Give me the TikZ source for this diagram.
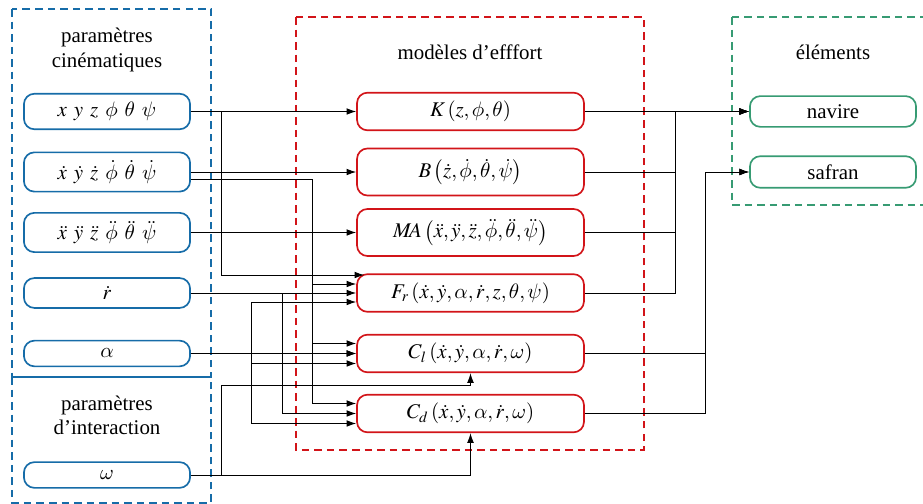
\documentclass[tikz,border=0pt]{standalone}
\usepackage{mathptmx}
\usepackage[no-math]{fontspec}
\setmainfont{Liberation Serif}
\usetikzlibrary{arrows.meta,calc}
\DeclareSymbolFont{cmgreek}{OML}{cmm}{m}{it}
\DeclareMathSymbol{\galpha}{\mathord}{cmgreek}{"0B}
\DeclareMathSymbol{\gtheta}{\mathord}{cmgreek}{"12}
\DeclareMathSymbol{\gphi}{\mathord}{cmgreek}{"1E}
\DeclareMathSymbol{\gpsi}{\mathord}{cmgreek}{"20}
\DeclareMathSymbol{\gomega}{\mathord}{cmgreek}{"21}
\definecolor{cblue}{RGB}{22,108,168}
\definecolor{cred}{RGB}{210,20,25}
\definecolor{cgreen}{RGB}{55,155,115}
\tikzset{
  box/.style={rounded corners=5pt,line width=0.8pt,minimum width=#1,inner ysep=4pt,inner xsep=2pt},
  bnode/.style={box=79.5pt,draw=cblue},
  rnode/.style={box=108.6pt,draw=cred},
  gnode/.style={box=79.5pt,draw=cgreen,minimum height=14.4pt},
  grp/.style={dash pattern=on 3.6pt off 2.4pt,line width=0.8pt},
  ttl/.style={align=center,font=\fontsize{10}{11.6}\selectfont},
  arr/.style={line width=0.45pt,-{Latex[length=4.6pt,width=3.2pt]}}
}
\begin{document}
\begin{tikzpicture}[x=0.4785pt,y=-0.4785pt]
\useasboundingbox (0,0) rectangle (923,504);
% group boxes
\draw[grp,cblue] (12,9) rectangle (211,377);
\draw[grp,cblue] (12,377) rectangle (211,503);
\draw[grp,cred] (296,17) rectangle (644,450);
\draw[grp,cgreen] (732,17) rectangle (930,205);
% titles
\node[ttl] (t1) at (107,50) {paramètres\\cinématiques};
\node[ttl] (t2) at (107,415) {paramètres\\d’interaction};
\node[ttl] (t3) at (470,52) {modèles d’efffort};
\node[ttl] (t4) at (833,52) {éléments};
% left nodes
\node[bnode] (n1) at (107,111.5) {$x\;\,y\;\,z\;\,\gphi\;\,\gtheta\;\,\gpsi$};
\node[bnode] (n2) at (107,172) {$\dot x\;\,\dot y\;\,\dot z\;\,\dot\gphi\;\,\dot\gtheta\;\,\dot\gpsi$};
\node[bnode] (n3) at (107,232.5) {$\ddot x\;\,\ddot y\;\,\ddot z\;\,\ddot\gphi\;\,\ddot\gtheta\;\,\ddot\gpsi$};
\node[bnode] (n4) at (107,293) {$\dot r$};
\node[bnode] (n5) at (107,353.5) {$\galpha$};
\node[bnode] (n6) at (107,475) {$\gomega$};
% middle nodes
\node[rnode] (K) at (470.5,111.5) {$K\,(z,\gphi,\gtheta)$};
\node[rnode,minimum height=22.5pt] (B) at (470.5,172) {$B\,\bigl(\dot z,\dot\gphi,\dot\gtheta,\dot\gpsi\bigr)$};
\node[rnode,minimum height=22.5pt] (MA) at (470.5,232.5) {$M\!A\,\bigl(\ddot x,\ddot y,\ddot z,\ddot\gphi,\ddot\gtheta,\ddot\gpsi\bigr)$};
\node[rnode] (Fr) at (470.5,293) {$F_r\,(\dot x,\dot y,\galpha,\dot r,z,\gtheta,\gpsi)$};
\node[rnode] (Cl) at (470.5,353.5) {$C_l\,(\dot x,\dot y,\galpha,\dot r,\gomega)$};
\node[rnode] (Cd) at (470.5,413.5) {$C_d\,(\dot x,\dot y,\galpha,\dot r,\gomega)$};
% right nodes
\node[gnode] (nav) at (833,111.5) {navire};
\node[gnode] (saf) at (833,172) {safran};
% junction columns
\coordinate (xa) at (221,0);
\coordinate (xb) at (251,0);
\coordinate (xc) at (282,0);
\coordinate (xd) at (312,0);
\coordinate (xr1) at (675,0);
\coordinate (xr2) at (705,0);
% left connectors
\draw[arr] (n1.east) -- (K.west);
\draw[arr] (n1.east) -| ($(xa|-Fr.west)+(0,-18)$) -- ($(Fr.west)+(8,-18)$);
\draw[arr] (n2.east) -- (B.west);
\draw[arr] ($(n2.east)+(0,7)$) -| ($(xd|-Fr.west)+(0,-9)$) -- ($(Fr.west)+(0,-9)$);
\draw[arr] ($(n2.east)+(0,7)$) -| ($(xd|-Cl.west)+(0,-10)$) -- ($(Cl.west)+(0,-10)$);
\draw[arr] ($(n2.east)+(0,7)$) -| ($(xd|-Cd.west)+(0,-10)$) -- ($(Cd.west)+(0,-10)$);
\draw[arr] (n3.east) -- (MA.west);
\draw[arr] (n4.east) -- (Fr.west);
\draw[arr] (n4.east) -| (xc|-Cl.west) -- (Cl.west);
\draw[arr] (n4.east) -| (xc|-Cd.west) -- (Cd.west);
\draw[arr] (n5.east) -- (Cl.west);
\draw[arr] (n5.east) -| ($(xb|-Fr.west)+(0,9)$) -- ($(Fr.west)+(0,9)$);
\draw[arr] (n5.east) -| ($(xb|-Cl.west)+(0,10)$) -- ($(Cl.west)+(0,10)$);
\draw[arr] (n5.east) -| ($(xb|-Cd.west)+(0,10)$) -- ($(Cd.west)+(0,10)$);
\draw[arr] (n6.east) -| (Cd.south);
\draw[arr] (n6.east) -| ($(xa|-Cl.south)+(0,12)$) -| (Cl.south);
% right connectors
\draw[arr] (K.east) -- (nav.west);
\draw[arr] (B.east) -| (xr1|-nav.west) -- (nav.west);
\draw[arr] (MA.east) -| (xr1|-nav.west) -- (nav.west);
\draw[arr] (Fr.east) -| (xr1|-nav.west) -- (nav.west);
\draw[arr] (Cl.east) -| (xr2|-saf.west) -- (saf.west);
\draw[arr] (Cd.east) -| (xr2|-saf.west) -- (saf.west);
\end{tikzpicture}
\end{document}
